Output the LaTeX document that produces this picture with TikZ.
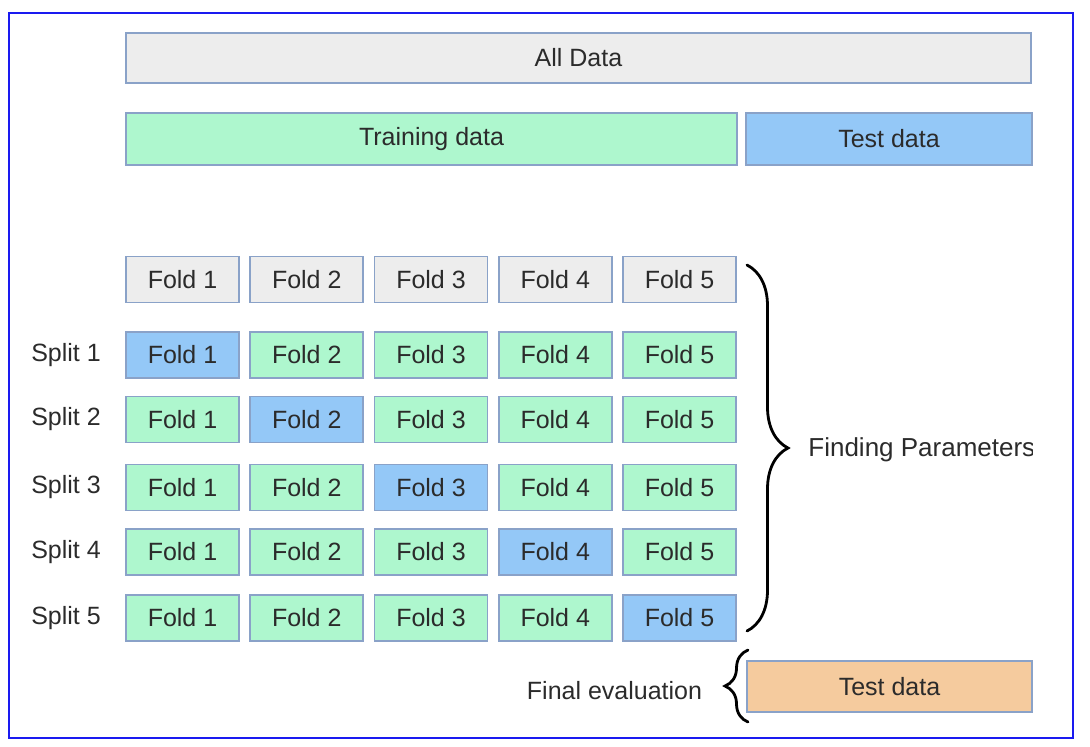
\documentclass[tikz,border=0pt]{standalone}
\usepackage{fontspec}
\setmainfont{Liberation Sans}
\usetikzlibrary{decorations.pathreplacing}
\definecolor{CVGray}{HTML}{EDEDED}
\definecolor{CVGreen}{HTML}{AEF7CE}
\definecolor{CVBlue}{HTML}{94C8F7}
\definecolor{CVOrange}{HTML}{F5CB9E}
\definecolor{CVEdge}{HTML}{8AA2C8}
\definecolor{CVText}{HTML}{2B2B2B}
\definecolor{CVFrame}{HTML}{1A1AF0}

\tikzset{
  box/.style={draw=CVEdge,line width=0.9pt,inner sep=0pt,text=CVText,
    font=\fontsize{12.5}{15}\selectfont},
  fold/.style={box,minimum width=56.5pt,minimum height=23pt},
  lbl/.style={inner sep=0pt,text=CVText,font=\fontsize{12.5}{15}\selectfont},
  curly/.style={decorate,decoration={brace,amplitude=#1},line width=1.4pt,
    line cap=round}
}

\begin{document}
\begin{tikzpicture}[x=0.5pt,y=-0.5pt]
    \useasboundingbox (0,0) rectangle (1090,746);
    \draw[CVFrame,line width=1.2pt] (9,13) rectangle (1073,738);
    % top bars
    \node[box,fill=CVGray,minimum width=452.5pt,minimum height=25pt]
      (alldata) at (578.5,58) {All Data};
    \node[box,fill=CVGreen,minimum width=305.5pt,minimum height=26pt]
      (train) at (431.5,139) {Training data};
    \node[box,fill=CVBlue,minimum width=143pt,minimum height=26pt]
      (test) at (889,139) {Test data};
    % fold header
    \foreach \c in {1,...,5}{
      \node[fold,fill=CVGray] (h\c) at ({182.5+(\c-1)*124.25},279.5) {Fold \c};}
    % splits
    \foreach \r/\y in {1/355,2/419.5,3/487.5,4/552,5/618}{
      \node[lbl] (split\r) at (66,\y) {Split \r};
      \foreach \c in {1,...,5}{
        \ifnum\c=\r\def\fc{CVBlue}\else\def\fc{CVGreen}\fi
        \node[fold,fill=\fc] (f\r\c) at ({182.5+(\c-1)*124.25},\y) {Fold \c};}
    }
    % braces
    \coordinate (bt) at (747,265);
    \coordinate (bb) at (747,631);
    \draw[curly=20.5pt] (bt) -- (bb);
    \begin{scope}
      \clip (0,0) rectangle (1032,746);
      \node[lbl,anchor=west,font=\fontsize{13}{15}\selectfont] (findp)
        at (808,450) {Finding Parameters};
    \end{scope}
    \coordinate (et) at (748,650);
    \coordinate (eb) at (748,722);
    \draw[curly=11.5pt] (eb) -- (et);
    \node[lbl] (finalev) at (614.5,691) {Final evaluation};
    \node[box,fill=CVOrange,minimum width=142.5pt,minimum height=25.5pt]
      (final) at (889.5,686.5) {Test data};
  \end{tikzpicture}
\end{document}
